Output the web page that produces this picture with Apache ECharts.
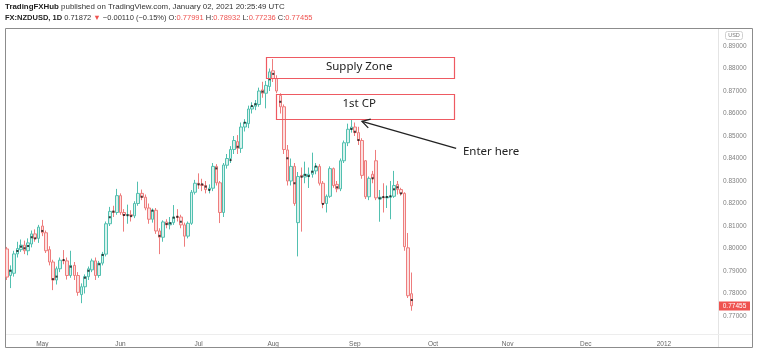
<!DOCTYPE html>
<html><head><meta charset="utf-8">
<script src="https://cdn.jsdelivr.net/npm/echarts@6/dist/echarts.min.js"></script>
<style>html,body{margin:0;padding:0;background:#fff}#c{width:758px;height:356px}</style>
</head><body><div id="c"></div>
<script>
// ---- data (NZDUSD daily, Apr 18 2011 -> Sep 23 2011) ----
const firstTradingDay = '2011-04-18';
const categoryCount = 201;
const opens = [0.7998,0.7880,0.7890,0.7976,0.7995,0.8015,0.7990,0.8020,0.8065,0.8045,
0.8100,0.8070,0.7995,0.7940,0.7860,0.7910,0.7948,0.7945,0.7880,0.7925,
0.7880,0.7795,0.7830,0.7875,0.7905,0.7945,0.7880,0.7935,0.7975,0.8110,
0.8165,0.8160,0.8235,0.8160,0.8148,0.8150,0.8145,0.8200,0.8245,0.8228,
0.8180,0.8130,0.8170,0.8078,0.8050,0.8118,0.8105,0.8115,0.8142,0.8140,
0.8105,0.8055,0.8112,0.8250,0.8290,0.8285,0.8280,0.8262,0.8268,0.8365,
0.8292,0.8160,0.8370,0.8400,0.8440,0.8475,0.8445,0.8540,0.8555,0.8620,
0.8632,0.8640,0.8705,0.8690,0.8720,0.8790,0.8755,0.8680,0.8630,0.8438,
0.8300,0.8365,0.8115,0.8325,0.8318,0.8320,0.8330,0.8345,0.8365,0.8290,
0.8200,0.8232,0.8355,0.8285,0.8265,0.8390,0.8470,0.8530,0.8540,0.8515,
0.8480,0.8390,0.8230,0.8330,0.8390,0.8220,0.8228,0.8225,0.8228,0.8232,
0.8285,0.8262,0.8245,0.8003,0.77991];
const closes = [0.7873,0.7905,0.7976,0.8000,0.8015,0.7990,0.8025,0.8065,0.8045,0.8095,
0.8070,0.7990,0.7940,0.7860,0.7910,0.7948,0.7945,0.7880,0.7925,0.7880,
0.7805,0.7830,0.7875,0.7910,0.7945,0.7880,0.7935,0.7975,0.8110,0.8165,
0.8160,0.8235,0.8160,0.8148,0.8150,0.8145,0.8200,0.8245,0.8228,0.8180,
0.8130,0.8170,0.8078,0.8050,0.8118,0.8105,0.8115,0.8140,0.8138,0.8105,
0.8055,0.8112,0.8250,0.8290,0.8285,0.8280,0.8262,0.8268,0.8365,0.8292,
0.8160,0.8371,0.8400,0.8440,0.8480,0.8445,0.8540,0.8560,0.8620,0.8632,
0.8645,0.8700,0.8690,0.8725,0.8785,0.8755,0.8700,0.8630,0.8440,0.8300,
0.8365,0.8200,0.8320,0.8318,0.8330,0.8330,0.8345,0.8365,0.8290,0.8200,
0.8232,0.8355,0.8280,0.8265,0.8390,0.8470,0.8530,0.8540,0.8515,0.8480,
0.8325,0.8230,0.8312,0.8312,0.8225,0.8228,0.8225,0.8230,0.8232,0.8280,
0.8262,0.8245,0.8008,0.7790,0.77455];
const lows = [0.7860,0.7824,0.7875,0.7960,0.7985,0.7975,0.7970,0.8005,0.8030,0.8025,
0.8055,0.7980,0.7925,0.7815,0.7840,0.7895,0.7930,0.7862,0.7870,0.7860,
0.7790,0.7757,0.7800,0.7860,0.7895,0.7860,0.7870,0.7925,0.7965,0.8100,
0.8140,0.8150,0.8150,0.8075,0.8110,0.8120,0.8135,0.8190,0.8215,0.8170,
0.8110,0.8115,0.8065,0.7975,0.8030,0.8090,0.8085,0.8105,0.8120,0.8090,
0.8008,0.8045,0.8105,0.8240,0.8265,0.8255,0.8245,0.8245,0.8255,0.8280,
0.8113,0.8140,0.8355,0.8380,0.8420,0.8420,0.8425,0.8520,0.8535,0.8600,
0.8615,0.8630,0.8670,0.8623,0.8700,0.8740,0.8690,0.8600,0.8420,0.8280,
0.8280,0.8190,0.7965,0.8075,0.8290,0.8269,0.8315,0.8330,0.8280,0.8179,
0.8160,0.8225,0.8270,0.8250,0.8255,0.8380,0.8455,0.8515,0.8500,0.8460,
0.8310,0.8220,0.8215,0.8290,0.8215,0.8119,0.8160,0.8180,0.8130,0.8225,
0.8240,0.8235,0.7990,0.7780,0.77236];
const highs = [0.8007,0.7925,0.7990,0.8030,0.8040,0.8035,0.8045,0.8080,0.8085,0.8105,
0.8127,0.8080,0.8010,0.7950,0.7920,0.7960,0.7993,0.7960,0.7990,0.7940,
0.7895,0.7845,0.7885,0.7920,0.7955,0.7960,0.7945,0.7985,0.8120,0.8185,
0.8190,0.8265,0.8245,0.8175,0.8195,0.8170,0.8210,0.8297,0.8262,0.8240,
0.8200,0.8178,0.8180,0.8090,0.8125,0.8130,0.8140,0.8193,0.8175,0.8150,
0.8115,0.8120,0.8260,0.8305,0.8334,0.8310,0.8300,0.8285,0.8380,0.8375,
0.8300,0.8380,0.8420,0.8455,0.8500,0.8504,0.8560,0.8575,0.8635,0.8650,
0.8660,0.8715,0.8741,0.8745,0.8800,0.8842,0.8770,0.8690,0.8640,0.8460,
0.8400,0.8380,0.8340,0.8360,0.8386,0.8360,0.8426,0.8380,0.8375,0.8300,
0.8240,0.8365,0.8360,0.8300,0.8400,0.8480,0.8555,0.8571,0.8560,0.8541,
0.8490,0.8393,0.8320,0.8345,0.8438,0.8260,0.8290,0.8280,0.8300,0.8345,
0.8300,0.8270,0.8250,0.8069,0.78932];
// small black markers drawn on some candles
const dotIndex = [1,3,4,5,6,7,8,10,13,14,16,18,22,23,26,27,29,30,33,34,35,38,41,43,45,46,47,48,49,
54,55,56,57,59,63,65,67,69,70,72,74,75,77,79,81,83,84,85,86,87,89,93,97,98,99,103,105,106,107,108,109,110,111,114];
const dotValue = [0.7901,0.7989,0.8008,0.8001,0.8011,0.8050,0.8045,0.8078,0.7864,0.7875,0.7949,0.7919,0.7870,0.7901,0.7930,0.7971,
0.8139,0.8164,0.8149,0.8148,0.8144,0.8230,0.8168,0.8056,0.8109,0.8112,0.8137,0.8141,0.8119,
0.8285,0.8285,0.8275,0.8260,0.8356,0.8393,0.8452,0.8559,0.8633,0.8641,0.8697,0.8752,0.8776,0.8652,0.8401,0.8290,0.8319,0.8327,
0.8322,0.8341,0.8364,0.8198,0.8272,0.8531,0.8519,0.8482,0.8312,0.8223,0.8229,0.8229,0.8232,0.8263,0.8272,0.8245,0.7771];
const monthLabels = {'2011-05':'May','2011-06':'Jun','2011-07':'Jul','2011-08':'Aug','2011-09':'Sep','2011-10':'Oct','2011-11':'Nov','2011-12':'Dec','2012-01':'2012'};
const yMin = 0.76, yMax = 0.90, yStep = 0.01;
// annotations in data units [category index, price]
const supplyZone = {x0:73.0, x1:125.9, top:0.8851, bottom:0.8758, label:'Supply Zone', lx:99.2, ly:0.8807};
const cpZone = {x0:75.8, x1:125.9, top:0.8687, bottom:0.8576, label:'1st CP', lx:99.2, ly:0.8645};
const arrowTip = [100.0, 0.8565], arrowTail = [126.5, 0.8445];
const enterText = {x:128.4, y:0.8428, label:'Enter here'};

// ---- build ----
const dates = [];
(function(){ const p = firstTradingDay.split('-').map(Number); const d = new Date(Date.UTC(p[0], p[1]-1, p[2]));
  while (dates.length < categoryCount) { const wd = d.getUTCDay(); if (wd !== 0 && wd !== 6) dates.push(d.toISOString().slice(0,10)); d.setUTCDate(d.getUTCDate()+1); } })();
const candleData = opens.map((o,i)=>[o, closes[i], lows[i], highs[i]]);
const dotData = dotIndex.map((i,k)=>[i, dotValue[k]]);

const FONT = 'Liberation Sans, Arial, sans-serif';
const RED = '#ef5350';
const chart = echarts.init(document.getElementById('c'), null, {renderer:'canvas'});
chart.setOption({
  animation:false,
  backgroundColor:'#fff',
  grid:{left:5, width:714, top:23.5, height:315},
  xAxis:{type:'category', data:dates, boundaryGap:true,
    axisLine:{show:false}, axisTick:{show:false}, splitLine:{show:false},
    axisLabel:{fontSize:6.5, color:'#666', margin:2, fontFamily:FONT,
      interval:(idx, val)=> idx>0 && val.slice(0,7)!==dates[idx-1].slice(0,7),
      formatter:(val)=> monthLabels[val.slice(0,7)] || ''}},
  yAxis:{type:'value', position:'right', min:yMin, max:yMax, interval:yStep,
    axisLine:{show:false}, axisTick:{show:false}, splitLine:{show:false},
    axisLabel:{fontSize:6.5, color:'#808080', margin:4, fontFamily:FONT, showMinLabel:false, showMaxLabel:false,
      formatter:(v)=> v.toFixed(5)}},
  series:[
    {type:'candlestick', data:candleData, barWidth:3,
      itemStyle:{color:'#d8f2ed', color0:'#fce0e0', borderColor:'#52c0b0', borderColor0:'#ee7d7d', borderWidth:1}},
    {type:'scatter', data:dotData, symbol:'rect', symbolSize:2, itemStyle:{color:'#111'}, z:5}
  ]
});

function px(x, p){
  const i0 = Math.floor(x), f = x - i0;
  const a = chart.convertToPixel({gridIndex:0}, [i0, p]);
  const b = chart.convertToPixel({gridIndex:0}, [i0+1, p]);
  return [a[0] + f*(b[0]-a[0]), a[1]];
}
function zoneEls(z){
  const tl = px(z.x0, z.top), br = px(z.x1, z.bottom), c = px(z.lx, z.ly);
  return [
    {type:'rect', shape:{x:Math.round(tl[0])+0.5, y:Math.round(tl[1])+0.5, width:Math.round(br[0]-tl[0]), height:Math.round(br[1]-tl[1])},
      style:{fill:'rgba(0,0,0,0)', stroke:'#ee5a62', lineWidth:1.2}, z:20},
    {type:'text', x:c[0], y:c[1], style:{text:z.label, fill:'#222', fontSize:11.5, fontFamily:'Noto Sans, sans-serif', align:'center', verticalAlign:'middle'}, z:21}
  ];
}
const tip = px(arrowTip[0], arrowTip[1]), tail = px(arrowTail[0], arrowTail[1]);
const dx = tail[0]-tip[0], dy = tail[1]-tip[1], L = Math.hypot(dx,dy), ux = dx/L, uy = dy/L;
const headLen = 9, ang = Math.PI/6;
function rot(x,y,a){ return [x*Math.cos(a)-y*Math.sin(a), x*Math.sin(a)+y*Math.cos(a)]; }
const h1 = rot(ux,uy,ang), h2 = rot(ux,uy,-ang);
const et = px(enterText.x, enterText.y);
const closeY = chart.convertToPixel({yAxisIndex:0}, closes[closes.length-1]);

const hdr1 = {fontSize:7.9, fontFamily:FONT};
const hdr = {fontSize:7.5, fontFamily:FONT};
chart.setOption({graphic:{elements:[
  {type:'rect', shape:{x:5.5, y:28.5, width:747, height:319}, style:{fill:'none', stroke:'#8c8c8c', lineWidth:1}, z:1, silent:true},
  {type:'line', shape:{x1:718.5, y1:29, x2:718.5, y2:347}, style:{stroke:'#e4e4e4', lineWidth:1}, z:1},
  {type:'line', shape:{x1:6, y1:334.5, x2:752, y2:334.5}, style:{stroke:'#ededed', lineWidth:1}, z:1},
  {type:'text', x:5, y:7, style:Object.assign({text:'{b|TradingFXHub} published on TradingView.com, January 02, 2021 20:25:49 UTC',
     fill:'#333', verticalAlign:'middle', rich:{b:Object.assign({fontWeight:'bold', fill:'#222'}, hdr1)}}, hdr1), z:30},
  {type:'text', x:5, y:18, style:Object.assign({text:'{b|FX:NZDUSD, 1D} 0.71872 {r|▼} −0.00110 (−0.15%) O:{r|0.77991} H:{r|0.78932} L:{r|0.77236} C:{r|0.77455}',
     fill:'#333', verticalAlign:'middle', rich:{b:Object.assign({fontWeight:'bold', fill:'#222'}, hdr), r:Object.assign({fill:RED}, hdr)}}, hdr), z:30},
  {type:'rect', shape:{x:725.5, y:31.5, width:17, height:8, r:2}, style:{fill:'#fff', stroke:'#d0d0d0', lineWidth:1}, z:30},
  {type:'text', x:734, y:35.5, style:{text:'USD', fontSize:5.5, fontFamily:FONT, fill:'#777', align:'center', verticalAlign:'middle'}, z:31},
  {type:'rect', shape:{x:719, y:Math.round(closeY)-4.5, width:31, height:9}, style:{fill:RED}, z:30},
  {type:'text', x:734.5, y:Math.round(closeY), style:{text:closes[closes.length-1].toFixed(5), fontSize:6.5, fontFamily:FONT, fill:'#fff', align:'center', verticalAlign:'middle'}, z:31},
  ...zoneEls(supplyZone), ...zoneEls(cpZone),
  {type:'line', shape:{x1:tip[0], y1:tip[1], x2:tail[0], y2:tail[1]}, style:{stroke:'#222', lineWidth:1.3}, z:22},
  {type:'polyline', shape:{points:[[tip[0]+h1[0]*headLen, tip[1]+h1[1]*headLen],[tip[0],tip[1]],[tip[0]+h2[0]*headLen, tip[1]+h2[1]*headLen]]}, style:{stroke:'#222', lineWidth:1.3, fill:'none'}, z:22},
  {type:'text', x:et[0], y:et[1], style:{text:enterText.label, fontSize:11.5, fontFamily:'Noto Sans, sans-serif', fill:'#222', verticalAlign:'middle'}, z:22}
]}});
</script></body></html>
